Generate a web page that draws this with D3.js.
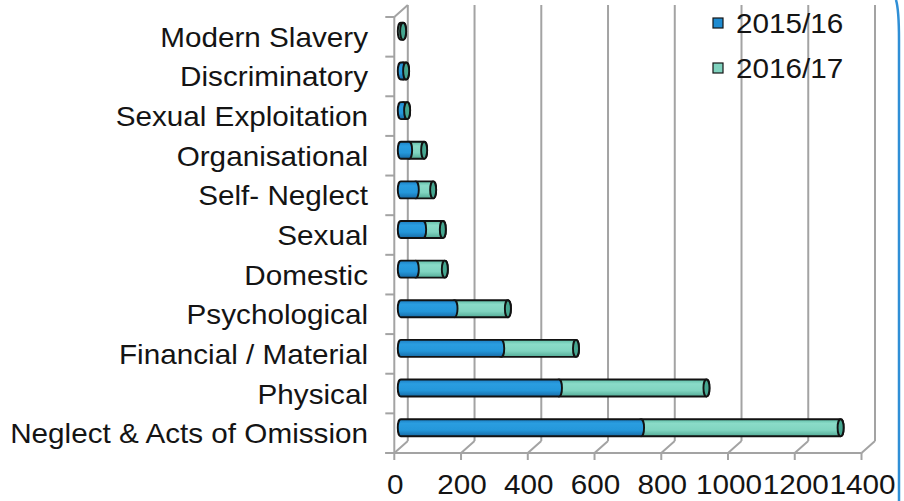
<!DOCTYPE html>
<html>
<head>
<meta charset="utf-8">
<script src="https://cdn.jsdelivr.net/npm/d3@7"></script>
<style>
  html, body { margin: 0; padding: 0; background: #fff; }
  svg { display: block; }
  text { font-family: "Liberation Sans", Arial, sans-serif; fill: #141414; }
</style>
</head>
<body>
<svg id="chart" width="904" height="501"></svg>
<script>
// Safeguarding concerns by type of abuse
const categories = [
  "Modern Slavery", "Discriminatory", "Sexual Exploitation", "Organisational",
  "Self- Neglect", "Sexual", "Domestic", "Psychological",
  "Financial / Material", "Physical", "Neglect & Acts of Omission"
];
const seriesNames = ["2015/16", "2016/17"];
const values2015 = [0, 7, 8, 25, 45, 67, 45, 161, 301, 474, 720];
const values2016 = [7, 9, 11, 45, 52, 59, 87, 160, 224, 442, 598];
const xTicks = [0, 200, 400, 600, 800, 1000, 1200, 1400];

const svg = d3.select("#chart");
const W = 904, H = 501;

// 3D box geometry: front plane and depth offset of the back plane
const depth = { dx: 13.5, dy: -12 };
const plotTop = 17, plotBottom = 453;
const x = d3.scaleLinear().domain([0, 1400]).range([394.3, 861.5]);
const y = d3.scaleBand().domain(categories).range([plotTop, plotBottom]);
const bw = y.bandwidth();

const gridColor = "#a3a3a3";
const stretch = 1.06;

// gradients for the cylinders
const defs = svg.append("defs");
function grad(id, stops) {
  const g = defs.append("linearGradient").attr("id", id)
    .attr("x1", 0).attr("y1", 0).attr("x2", 0).attr("y2", 1);
  stops.forEach(([o, c]) => g.append("stop").attr("offset", o).attr("stop-color", c));
}
grad("gBlue", [[0, "#1b7ec2"], [0.25, "#2a9de0"], [0.65, "#2497da"], [1, "#176ba6"]]);
grad("gGreen", [[0, "#5ebda7"], [0.25, "#8adbc8"], [0.65, "#80d4c0"], [1, "#52ab96"]]);

const grid = svg.append("g").attr("fill", "none").attr("stroke", gridColor).attr("stroke-width", 2);

// back wall gridlines
grid.selectAll("line.back").data(xTicks).join("line")
  .attr("x1", d => x(d) + depth.dx).attr("x2", d => x(d) + depth.dx)
  .attr("y1", plotTop + depth.dy).attr("y2", plotBottom + depth.dy);

// floor diagonals
grid.selectAll("line.floor").data(xTicks).join("line")
  .attr("x1", d => x(d)).attr("y1", plotBottom)
  .attr("x2", d => x(d) + depth.dx).attr("y2", plotBottom + depth.dy);

// floor front edge
grid.append("line")
  .attr("x1", x(0) - 9).attr("x2", x(1400))
  .attr("y1", plotBottom).attr("y2", plotBottom);

// value ticks under the floor
grid.selectAll("line.xt").data(xTicks).join("line")
  .attr("x1", d => x(d)).attr("x2", d => x(d))
  .attr("y1", plotBottom).attr("y2", plotBottom + 7);

// side wall front edge and top
grid.append("line")
  .attr("x1", x(0)).attr("x2", x(0)).attr("y1", plotTop).attr("y2", plotBottom);
grid.append("line")
  .attr("x1", x(0)).attr("y1", plotTop)
  .attr("x2", x(0) + depth.dx).attr("y2", plotTop + depth.dy);

// category ticks at band boundaries
const bounds = d3.range(categories.length + 1).map(i => plotTop + i * bw);
grid.selectAll("line.yt").data(bounds).join("line")
  .attr("x1", x(0) - 9).attr("x2", x(0))
  .attr("y1", d => d).attr("y2", d => d);

// category labels
svg.append("g").selectAll("text").data(categories).join("text")
  .attr("transform", d => `translate(368,${y(d) + bw / 2 + 10}) scale(${stretch},1)`)
  .attr("text-anchor", "end")
  .attr("font-size", 28)
  .text(d => d);

// value labels
svg.append("g").selectAll("text").data(xTicks).join("text")
  .attr("transform", d => `translate(${x(d) + 1},494) scale(${stretch},1)`)
  .attr("text-anchor", "middle")
  .attr("font-size", 28)
  .text(d => d);

// cylinders, placed halfway into the depth
const r = 8.5, rx = 3;
const offX = depth.dx * 0.48, offY = -5.5;
function body(x0, x1, cy) {
  return `M${x0},${cy - r} L${x1},${cy - r} A${rx},${r} 0 0 1 ${x1},${cy + r} ` +
         `L${x0},${cy + r} A${rx},${r} 0 0 1 ${x0},${cy - r} Z`;
}
const rows = categories.map((c, i) => ({ c, a: values2015[i], b: values2016[i] }));
const bars = svg.append("g").attr("stroke", "#121212").attr("stroke-width", 1.9);
rows.forEach(d => {
  const cy = y(d.c) + bw / 2 + offY;
  const x0 = x(0) + offX, x1 = x(d.a) + offX, x2 = x(d.a + d.b) + offX;
  bars.append("path").attr("d", body(x1, x2, cy)).attr("fill", "url(#gGreen)");
  if (d.a > 0) bars.append("path").attr("d", body(x0, x1, cy)).attr("fill", "url(#gBlue)");
  bars.append("ellipse").attr("cx", x2).attr("cy", cy).attr("rx", rx).attr("ry", r)
    .attr("fill", "#45a690");
});

// legend
const legend = svg.append("g");
const colors = ["#1f8bd0", "#7fd2be"];
seriesNames.forEach((s, i) => {
  const ly = 33 + i * 45;
  legend.append("rect").attr("x", 713).attr("y", ly - 15).attr("width", 10).attr("height", 10)
    .attr("fill", colors[i]).attr("stroke", "#151515").attr("stroke-width", 1.2);
  legend.append("text")
    .attr("transform", `translate(736,${ly}) scale(${stretch},1)`)
    .attr("font-size", 28).text(s);
});

// page edge accent
svg.append("path")
  .attr("d", `M896,0 Q899,10 899,40 L899,${H}`)
  .attr("fill", "none").attr("stroke", "#2f8fd6").attr("stroke-width", 2.5);
</script>
</body>
</html>
